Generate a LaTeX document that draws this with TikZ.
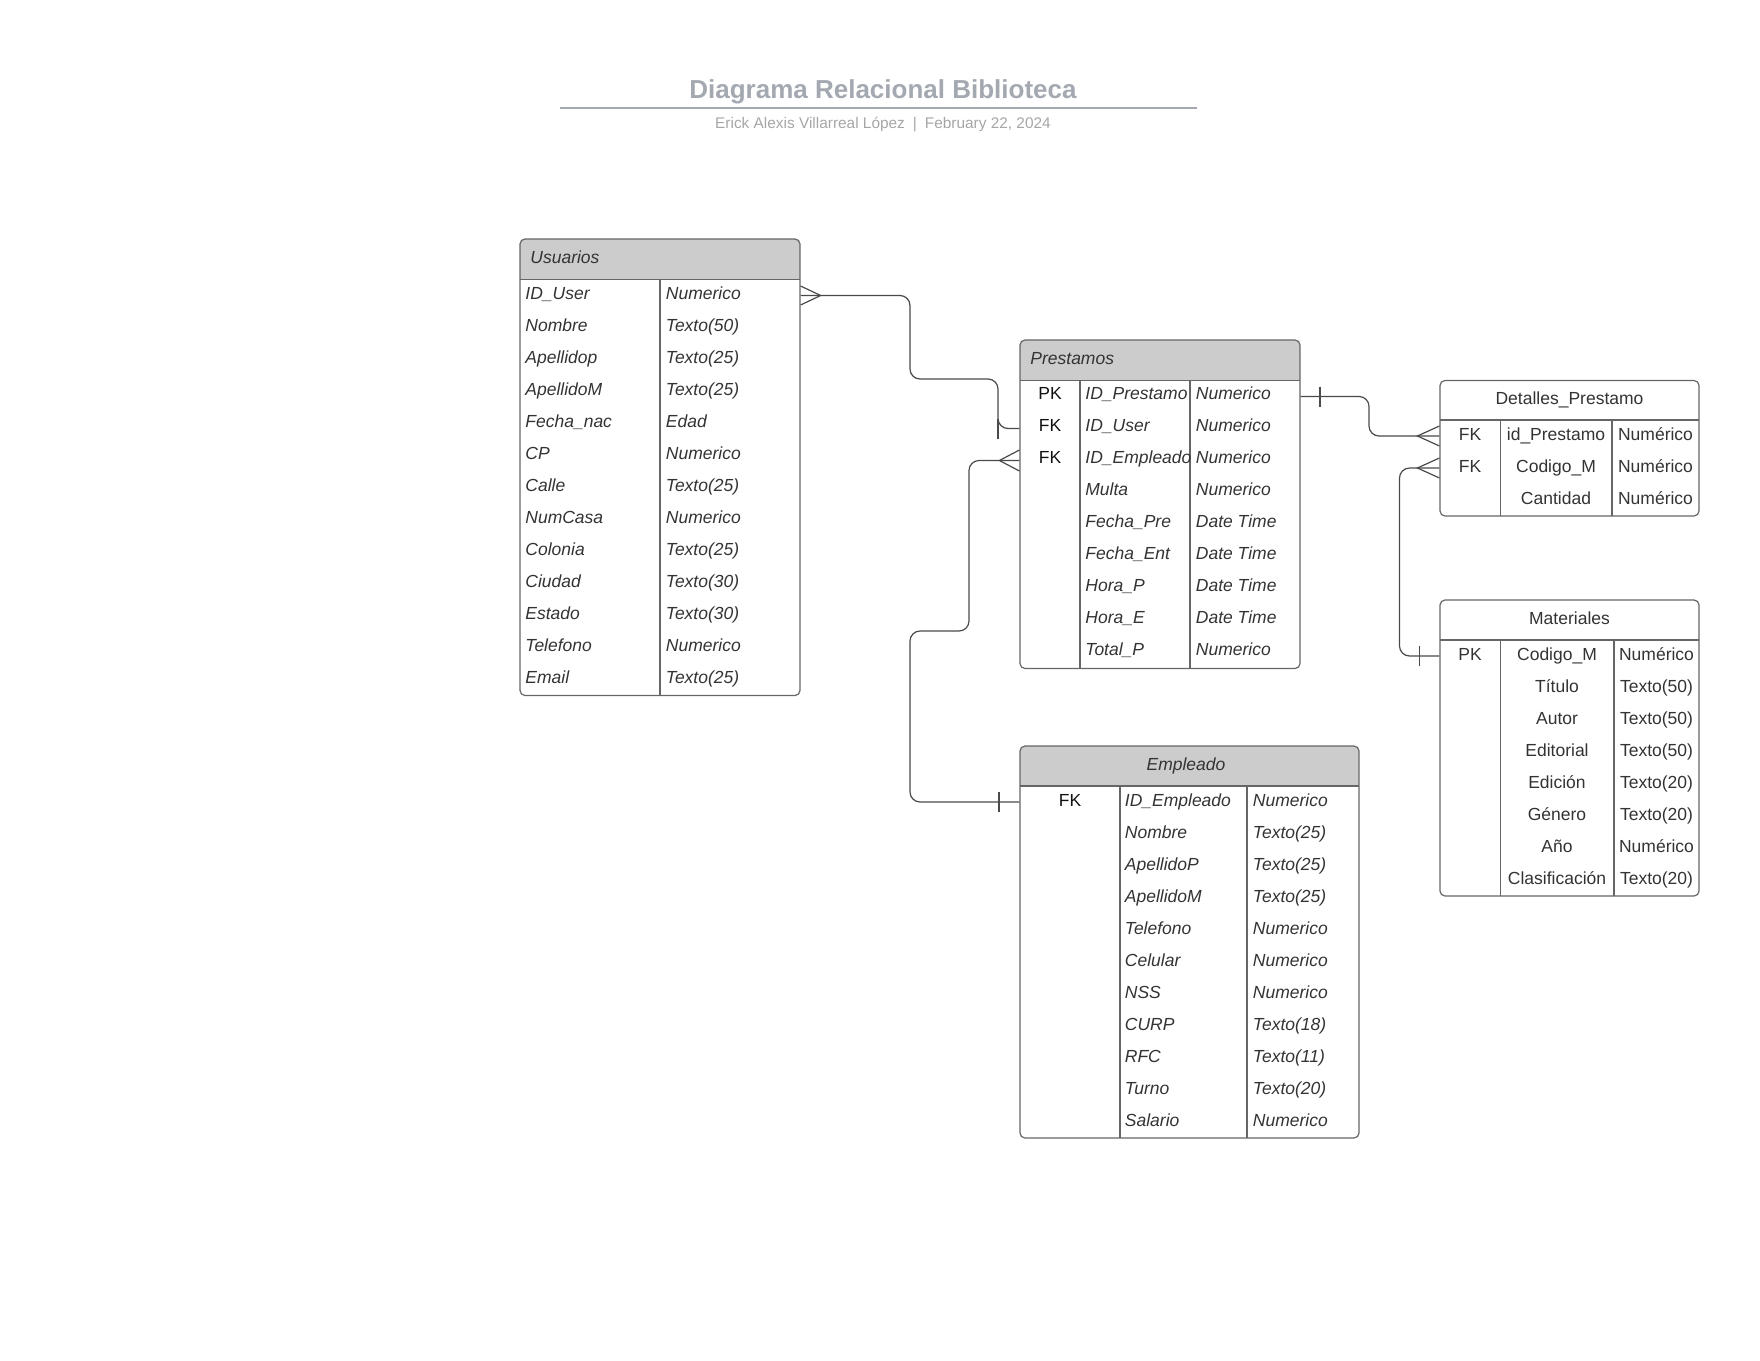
\documentclass[tikz,border=0pt]{standalone}
\usepackage{fontspec}
\setmainfont{Liberation Sans}
\usetikzlibrary{fit}

\definecolor{ink}{HTML}{333333}
\definecolor{keyink}{HTML}{111111}
\definecolor{framegray}{HTML}{666666}
\definecolor{wiregray}{HTML}{4A4A4A}
\definecolor{hdrfill}{HTML}{CCCCCC}
\definecolor{titlegray}{HTML}{A3A8B1}
\definecolor{subgray}{HTML}{A6A6A6}

\tikzset{
  cell/.style={inner sep=0pt, text=ink, font=\fontsize{8.75}{10}\selectfont},
  keycell/.style={inner sep=0pt, text=keyink, font=\fontsize{8.75}{10}\selectfont},
  icell/.style={inner sep=0pt, text=ink, font=\fontsize{8.75}{10}\selectfont\itshape},
  tblframe/.style={draw=framegray, line width=0.6pt, rounded corners=2.5pt, inner sep=0pt},
  divider/.style={draw=framegray, line width=0.6pt},
  wire/.style={draw=wiregray, line width=0.6pt, rounded corners=5pt},
  tickmark/.style={draw=wiregray, line width=0.6pt},
}

% table frame: name, x1, y1, x2, y2, header bottom, header fill
\newcommand\ertable[7]{%
  \begin{scope}
    \clip[rounded corners=2.5pt] (#2,#3) rectangle (#4,#5);
    \fill[#7] (#2,#3) rectangle (#4,#6);
  \end{scope}
  \node[tblframe, fit={(#2,#3) (#4,#5)}] (#1) {};
  \draw[divider] (#2,#6) -- (#4,#6);
}

\begin{document}
\begin{tikzpicture}[x=0.5pt,y=-0.5pt]
\useasboundingbox (0,0) rectangle (1760,1360);

% ---- title block ----
\node[anchor=base, inner sep=0pt, text=titlegray,
      font=\fontsize{13}{15}\selectfont\bfseries] (title) at (883,98.5)
      {Diagrama Relacional Biblioteca};
\draw[titlegray, line width=1pt] (560,108) -- (1197,108);
\node[anchor=base, inner sep=0pt, text=subgray,
      font=\fontsize{7.7}{9}\selectfont] (subtitle) at (883,128.5)
      {Erick Alexis Villarreal López\hspace{4pt}|\hspace{4pt}February 22, 2024};

% ---- Usuarios ----
\ertable{usuarios}{520}{239}{800}{695.5}{279.5}{hdrfill}
\draw[divider] (660,279.5) -- (660,695.5);
\node[icell, anchor=base west] (usuarios-title) at (530,263.5) {Usuarios};
\foreach \a/\b [count=\i] in {ID\_User/Numerico, Nombre/Texto(50), Apellidop/Texto(25),
    ApellidoM/Texto(25), Fecha\_nac/Edad, CP/Numerico, Calle/Texto(25), NumCasa/Numerico,
    Colonia/Texto(25), Ciudad/Texto(30), Estado/Texto(30), Telefono/Numerico, Email/Texto(25)} {
  \coordinate (u-\i) at (520,279.5+32*\i-16);
  \node[icell, anchor=base west] (u-\i-a) at (525,279.5+32*\i-11.8) {\a};
  \node[icell, anchor=base west] (u-\i-b) at (665.5,279.5+32*\i-11.8) {\b};
}

% ---- Prestamos ----
\ertable{prestamos}{1020}{340}{1300}{668.5}{380.5}{hdrfill}
\draw[divider] (1080,380.5) -- (1080,668.5);
\draw[divider] (1190,380.5) -- (1190,668.5);
\node[icell, anchor=base west] (prestamos-title) at (1030,364.3) {Prestamos};
\foreach \k/\a/\b [count=\i] in {PK/ID\_Prestamo/Numerico, FK/ID\_User/Numerico,
    FK/ID\_Empleado/Numerico, /Multa/Numerico, /Fecha\_Pre/Date Time, /Fecha\_Ent/Date Time,
    /Hora\_P/Date Time, /Hora\_E/Date Time, /Total\_P/Numerico} {
  \coordinate (p-\i) at (1020,380.5+32*\i-16);
  \node[keycell, anchor=base] (p-\i-k) at (1050,380.5+32*\i-12.7) {\k};
  \node[icell, anchor=base west] (p-\i-a) at (1085,380.5+32*\i-12.7) {\a};
  \node[icell, anchor=base west] (p-\i-b) at (1195.5,380.5+32*\i-12.7) {\b};
}

% ---- Detalles_Prestamo ----
\ertable{detalles}{1440}{380.5}{1699}{516}{420}{white}
\draw[divider] (1500.5,420) -- (1500.5,516);
\draw[divider] (1612,420) -- (1612,516);
\node[cell, anchor=base] (detalles-title) at (1569.5,404.5) {Detalles\_Prestamo};
\foreach \k/\a/\b [count=\i] in {FK/id\_Prestamo/Numérico, FK/Codigo\_M/Numérico,
    /Cantidad/Numérico} {
  \coordinate (d-\i) at (1440,420+32*\i-16);
  \node[cell, anchor=base] (d-\i-k) at (1470,420+32*\i-12) {\k};
  \node[cell, anchor=base] (d-\i-a) at (1556,420+32*\i-12) {\a};
  \node[cell, anchor=base] (d-\i-b) at (1655.5,420+32*\i-12) {\b};
}

% ---- Materiales ----
\ertable{materiales}{1440}{600}{1699}{896}{640}{white}
\draw[divider] (1500.5,640) -- (1500.5,896);
\draw[divider] (1614,640) -- (1614,896);
\node[cell, anchor=base] (materiales-title) at (1569.5,624.5) {Materiales};
\foreach \k/\a/\b [count=\i] in {PK/Codigo\_M/Numérico, /Título/Texto(50), /Autor/Texto(50),
    /Editorial/Texto(50), /Edición/Texto(20), /Género/Texto(20), /Año/Numérico,
    /Clasificación/Texto(20)} {
  \coordinate (m-\i) at (1440,640+32*\i-16);
  \node[cell, anchor=base] (m-\i-k) at (1470,640+32*\i-12) {\k};
  \node[cell, anchor=base] (m-\i-a) at (1557,640+32*\i-12) {\a};
  \node[cell, anchor=base] (m-\i-b) at (1656.5,640+32*\i-12) {\b};
}

% ---- Empleado ----
\ertable{empleado}{1020}{746}{1359}{1138}{786}{hdrfill}
\draw[divider] (1120,786) -- (1120,1138);
\draw[divider] (1247,786) -- (1247,1138);
\node[icell, anchor=base] (empleado-title) at (1186,770.5) {Empleado};
\foreach \k/\a/\b [count=\i] in {FK/ID\_Empleado/Numerico, /Nombre/Texto(25),
    /ApellidoP/Texto(25), /ApellidoM/Texto(25), /Telefono/Numerico, /Celular/Numerico,
    /NSS/Numerico, /CURP/Texto(18), /RFC/Texto(11), /Turno/Texto(20), /Salario/Numerico} {
  \coordinate (e-\i) at (1020,786+32*\i-16);
  \node[keycell, anchor=base] (e-\i-k) at (1070,786+32*\i-12) {\k};
  \node[icell, anchor=base west] (e-\i-a) at (1124.5,786+32*\i-12) {\a};
  \node[icell, anchor=base west] (e-\i-b) at (1252.5,786+32*\i-12) {\b};
}

% ---- relationships ----
% Usuarios (many) -- Prestamos.ID_User (one)
\draw[wire] (usuarios.east |- u-1) -- (910,295.5) |- (998,379) |- (prestamos.west |- p-2);
\draw[tickmark] (usuarios.east |- u-1) ++(0,-9.5) -- ++(20,9.5) -- ++(-20,9.5);
\draw[tickmark] (998,418.5) -- (998,438.5);

% Prestamos.ID_Empleado (many) -- Empleado (one)
\draw[wire] (prestamos.west |- p-3) -- (969,460.5) |- (910,631) |- (empleado.west |- e-1);
\draw[tickmark] (prestamos.west |- p-3) ++(0,-10.5) -- ++(-20,10.5) -- ++(20,10.5);
\draw[tickmark] (999,792) -- (999,812);

% Prestamos (one) -- Detalles_Prestamo.id_Prestamo (many)
\draw[wire] (prestamos.east |- p-1) -- (1369,396.5) |- (detalles.west |- d-1);
\draw[tickmark] (1320,386.5) -- (1320,406.5);
\draw[tickmark] (detalles.west |- d-1) ++(0,-10) -- ++(-22,10) -- ++(22,10);

% Materiales (one) -- Detalles_Prestamo.Codigo_M (many)
\draw[wire] (materiales.west |- m-1) -- (1399.5,656) |- (detalles.west |- d-2);
\draw[tickmark] (1419.5,646) -- (1419.5,666);
\draw[tickmark] (detalles.west |- d-2) ++(0,-10) -- ++(-22,10) -- ++(22,10);

\end{tikzpicture}
\end{document}
